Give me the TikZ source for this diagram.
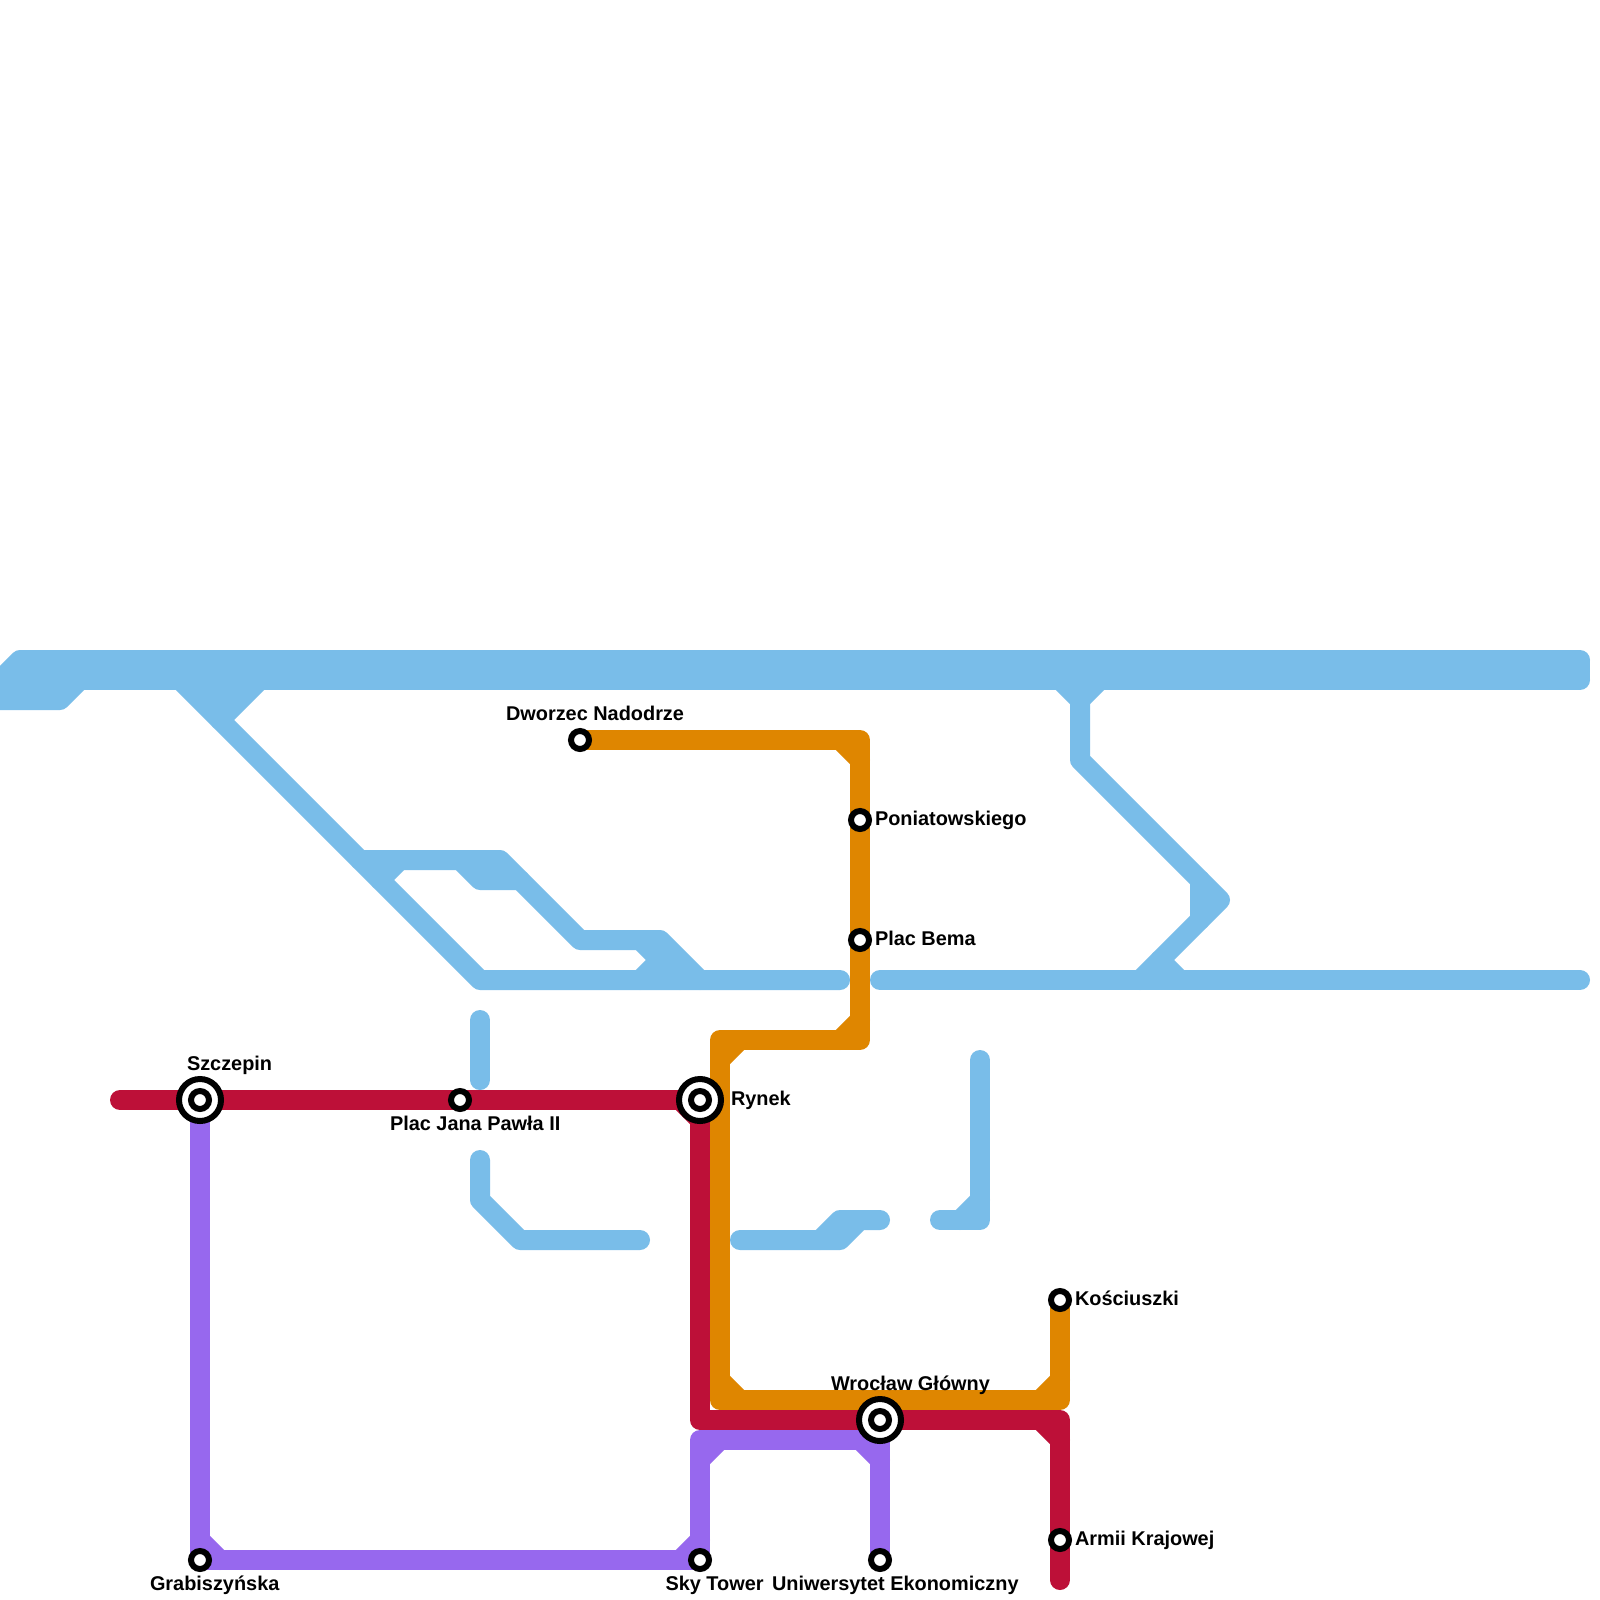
\documentclass[tikz,border=0pt]{standalone}
\usepackage{fontspec}
\setmainfont{Liberation Sans}
\definecolor{bluel}{HTML}{79BDE9}
\definecolor{redl}{HTML}{BD1038}
\definecolor{orangel}{HTML}{DF8600}
\definecolor{purplel}{HTML}{9768EE}
\tikzset{
  track/.style={line width=10pt,line cap=round,line join=round},
  blueline/.style={track,draw=bluel},
  redline/.style={track,draw=redl},
  orangeline/.style={track,draw=orangel},
  purpleline/.style={track,draw=purplel},
  stopmark/.style={circle,draw=black,fill=white,line width=3pt,minimum size=9pt,inner sep=0pt},
  hubmark/.style={circle,draw=black,fill=white,line width=3pt,minimum size=21pt,inner sep=0pt},
  stoplabel/.style={font=\fontsize{9.95}{12}\selectfont\bfseries,text=black,inner sep=0pt,outer sep=0pt,anchor=base west}
}
\begin{document}
\begin{tikzpicture}[x=0.5pt,y=-0.5pt]
\clip (0,0) rectangle (1600,1600);
\fill[white] (0,0) rectangle (1600,1600);
% station positions
\coordinate (cSz) at (200,1100);
\coordinate (cPj) at (460,1100);
\coordinate (cRy) at (700,1100);
\coordinate (cDn) at (580,740);
\coordinate (cPo) at (860,820);
\coordinate (cPb) at (860,940);
\coordinate (cWg) at (880,1420);
\coordinate (cKo) at (1060,1300);
\coordinate (cAk) at (1060,1540);
\coordinate (cGr) at (200,1560);
\coordinate (cSt) at (700,1560);
\coordinate (cUe) at (880,1560);
% blue
\draw[blueline] (-20,700) -- (20,660) -- (1580,660);
\draw[blueline] (-20,680) -- (1580,680);
\fill[bluel] (20,660) rectangle (1590,680);
\draw[blueline] (-20,700) -- (60,700) -- (80,680);
\draw[blueline] (180,680) -- (480,980) -- (840,980);
\draw[blueline] (260,680) -- (220,720);
\fill[bluel] (180,680) -- (260,680) -- (220,720) -- cycle;
\draw[blueline] (360,860) -- (500,860) -- (580,940) -- (660,940) -- (700,980);
\draw[blueline] (400,860) -- (380,880);
\draw[blueline] (460,860) -- (480,880) -- (520,880);
\draw[blueline] (640,940) -- (680,980);
\draw[blueline] (640,980) -- (660,960);
\draw[blueline] (880,980) -- (1580,980);
\draw[blueline] (1060,680) -- (1080,700) -- (1100,680);
\draw[blueline] (1080,700) -- (1080,760) -- (1220,900) -- (1140,980);
\draw[blueline] (1200,880) -- (1200,920);
\draw[blueline] (1160,960) -- (1180,980);
\draw[blueline] (480,1020) -- (480,1080);
\draw[blueline] (480,1160) -- (480,1200) -- (520,1240) -- (640,1240);
\draw[blueline] (740,1240) -- (840,1240) -- (860,1220) -- (880,1220);
\draw[blueline] (820,1240) -- (840,1220) -- (860,1220);
\draw[blueline] (940,1220) -- (980,1220) -- (980,1060);
\draw[blueline] (960,1220) -- (980,1200);
% purple
\draw[purpleline] (cSz) -- (cGr) -- (cSt) -- (700,1440) -- (880,1440) -- (cUe);
\draw[purpleline] (200,1540) -- (220,1560);
\draw[purpleline] (680,1560) -- (700,1540);
\draw[purpleline] (720,1440) -- (700,1460);
\draw[purpleline] (860,1440) -- (880,1460);
% red
\draw[redline] (120,1100) -- (cSz) -- (cPj) -- (cRy) -- (700,1420) -- (cWg) -- (1060,1420) -- (1060,1580);
\draw[redline] (680,1100) -- (700,1120);
\draw[redline] (1040,1420) -- (1060,1440);
% orange
\draw[orangeline] (cDn) -- (860,740) -- (cPo) -- (cPb) -- (860,1040) -- (720,1040) -- (720,1400) -- (1060,1400) -- (cKo);
\draw[orangeline] (840,740) -- (860,760);
\draw[orangeline] (860,1020) -- (840,1040);
\draw[orangeline] (740,1040) -- (720,1060);
\draw[orangeline] (720,1380) -- (740,1400);
\draw[orangeline] (1040,1400) -- (1060,1380);
% stations
\node[hubmark] (szo) at (cSz) {};
\node[stopmark] (szi) at (cSz) {};
\node[stopmark] (pj) at (cPj) {};
\node[hubmark] (ryo) at (cRy) {};
\node[stopmark] (ryi) at (cRy) {};
\node[stopmark] (dn) at (cDn) {};
\node[stopmark] (po) at (cPo) {};
\node[stopmark] (pb) at (cPb) {};
\node[hubmark] (wgo) at (cWg) {};
\node[stopmark] (wgi) at (cWg) {};
\node[stopmark] (ko) at (cKo) {};
\node[stopmark] (ak) at (cAk) {};
\node[stopmark] (gr) at (cGr) {};
\node[stopmark] (st) at (cSt) {};
\node[stopmark] (ue) at (cUe) {};
% labels
\node[stoplabel] (lSz) at (187,1070) {Szczepin};
\node[stoplabel] (lPj) at (390,1130) {Plac Jana Pawła II};
\node[stoplabel] (lRy) at (731,1105) {Rynek};
\node[stoplabel] (lDn) at (506,720) {Dworzec Nadodrze};
\node[stoplabel] (lPo) at (875,825) {Poniatowskiego};
\node[stoplabel] (lPb) at (875,945) {Plac Bema};
\node[stoplabel] (lWg) at (831,1390) {Wrocław Główny};
\node[stoplabel] (lKo) at (1075,1305) {Kościuszki};
\node[stoplabel] (lAk) at (1075,1545) {Armii Krajowej};
\node[stoplabel] (lGr) at (150,1590) {Grabiszyńska};
\node[stoplabel] (lSt) at (665.5,1590) {Sky Tower};
\node[stoplabel] (lUe) at (772,1590) {Uniwersytet Ekonomiczny};
\end{tikzpicture}
\end{document}
